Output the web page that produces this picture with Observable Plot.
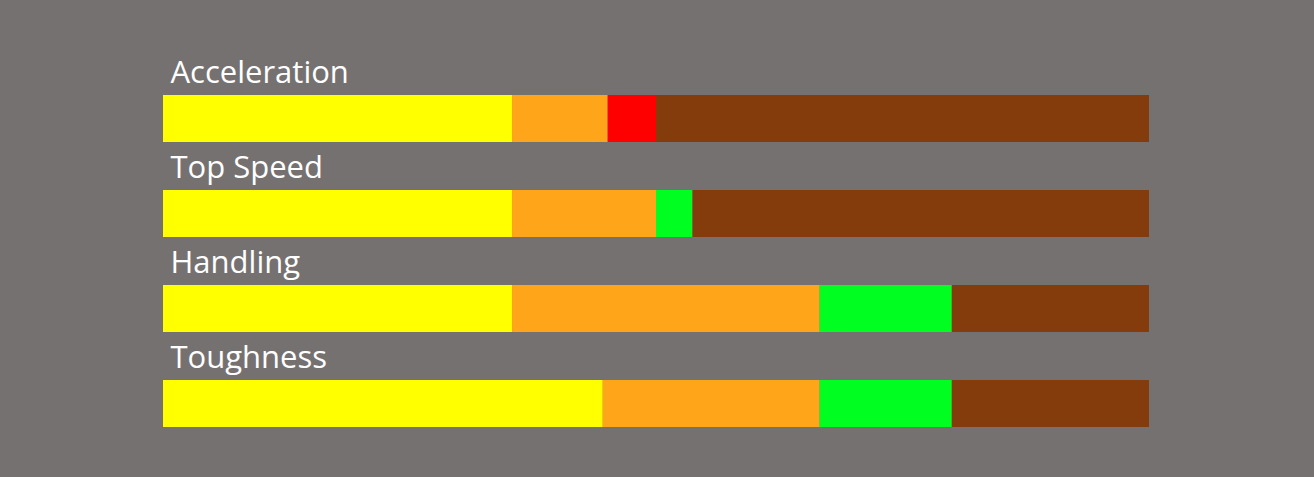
<!DOCTYPE html>
<html>
<head>
<meta charset="utf-8">
<script src="https://cdn.jsdelivr.net/npm/d3@7"></script>
<script src="https://cdn.jsdelivr.net/npm/@observablehq/plot@0.6"></script>
<style>
  html, body { margin: 0; padding: 0; background: #767171; }
  #chart { width: 1314px; height: 477px; }
</style>
</head>
<body>
<div id="chart"></div>
<script>
// Stats (rows, top to bottom)
const stats = ["Acceleration", "Top Speed", "Handling", "Toughness"];
// Segment kinds per row, in stacking order
const segmentKinds = [
  ["Base", "Upgrade", "Penalty", "Remaining"],
  ["Base", "Upgrade", "Bonus", "Remaining"],
  ["Base", "Upgrade", "Bonus", "Remaining"],
  ["Base", "Upgrade", "Bonus", "Remaining"]
];
// Segment values per row (share of full bar, out of 100)
const baseValues      = [35.4, 35.4, 35.4, 44.6];
const upgradeValues   = [9.7, 14.6, 31.2, 22.0];
const modifierValues  = [4.9, 3.7, 13.4, 13.4];
const remainingValues = [50.0, 46.3, 20.0, 20.0];

const kindDomain = ["Base", "Upgrade", "Penalty", "Bonus", "Remaining"];
const kindColors = ["#FFFF00", "#FFA519", "#FF0000", "#00FF21", "#843C0C"];

const rows = [];
stats.forEach((s, i) => {
  const vals = [baseValues[i], upgradeValues[i], modifierValues[i], remainingValues[i]];
  vals.forEach((v, j) => rows.push({stat: s, kind: segmentKinds[i][j], order: j, value: v}));
});

const chart = Plot.plot({
  width: 1314,
  height: 477,
  marginLeft: 163,
  marginRight: 165,
  marginTop: 95,
  marginBottom: 49.5,
  style: {background: "#767171", fontFamily: "'Open Sans', sans-serif"},
  x: {domain: [0, 100], axis: null},
  y: {domain: stats, axis: null, paddingInner: 0.5053, paddingOuter: 0},
  color: {domain: kindDomain, range: kindColors},
  marks: [
    Plot.barX(rows, Plot.stackX({x: "value", y: "stat", fill: "kind", order: "order", inset: 0})),
    Plot.text(stats, {
      x: 0, y: d => d, text: d => d,
      textAnchor: "start", lineAnchor: "middle",
      dx: 7, dy: -46,
      fill: "white", fontSize: 31
    })
  ]
});
document.getElementById("chart").appendChild(chart);
</script>
</body>
</html>
